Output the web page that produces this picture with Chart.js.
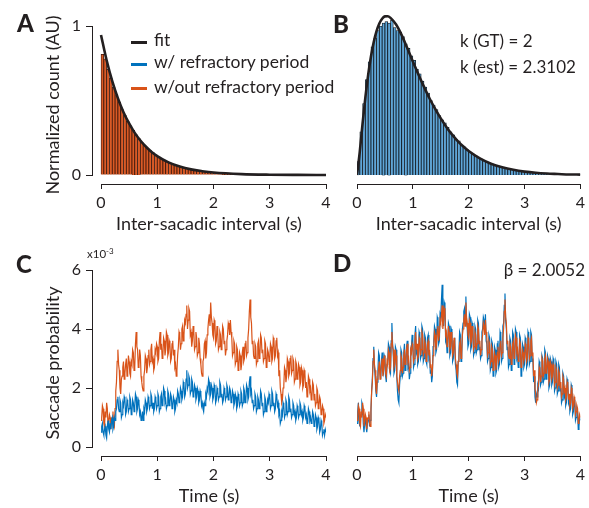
<!DOCTYPE html>
<html><head><meta charset="utf-8">
<script src="https://cdn.jsdelivr.net/npm/chart.js@4"></script>
<style>
html,body{margin:0;padding:0;background:#fff}
body{width:589px;height:508px;position:relative;overflow:hidden;font-family:Lato,'Open Sans',sans-serif;color:#231f20}
canvas{position:absolute;left:0;top:0}
.t{position:absolute;white-space:nowrap;line-height:1}
.lab{font-weight:900;font-size:24px}
.leg{font-size:17.5px}
.ann{font-size:17px}
.sw{position:absolute;height:3px;width:16px}
sup{font-size:8px;vertical-align:4px}
</style></head><body>
<canvas id="cA" width="589" height="508"></canvas>
<canvas id="cB" width="589" height="508"></canvas>
<canvas id="cC" width="589" height="508"></canvas>
<canvas id="cD" width="589" height="508"></canvas>

<div class="t lab" style="left:17px;top:11px">A</div>
<div class="t lab" style="left:333px;top:12px">B</div>
<div class="t lab" style="left:16px;top:252px">C</div>
<div class="t lab" style="left:333px;top:251px">D</div>

<div class="sw" style="left:131px;top:41px;background:#231f20"></div>
<div class="sw" style="left:131px;top:63px;background:#0072BD"></div>
<div class="sw" style="left:131px;top:87px;background:#D95319"></div>
<div class="t leg" style="left:154px;top:31px">fit</div>
<div class="t leg" style="left:154px;top:53px">w/ refractory period</div>
<div class="t leg" style="left:154px;top:78px">w/out refractory period</div>

<div class="t ann" style="left:460px;top:32px">k (GT) = 2</div>
<div class="t ann" style="left:460px;top:58px">k (est) = 2.3102</div>
<div class="t ann" style="right:4px;top:261px">β = 2.0052</div>
<div class="t" style="left:87px;top:247px;font-size:11.5px">x10<sup>-3</sup></div>

<script>
// ---------- data ----------
const xTickValues = [0, 1, 2, 3, 4];
const xTickLabels = ['0', '1', '2', '3', '4'];
const yTickValuesA = [0, 1];
const yTickLabelsA = ['0', '1'];
const yTickValuesC = [0, 2, 4, 6];
const yTickLabelsC = ['0', '2', '4', '6'];

const binWidth = 0.05; // s
// Panel A histogram (w/out refractory period), normalized count
const histA = [0.81,0.78,0.71,0.65,0.59,0.54,0.49,0.44,0.40,0.36,
  0.33,0.30,0.27,0.245,0.22,0.20,0.18,0.165,0.15,0.135,
  0.122,0.11,0.10,0.09,0.082,0.074,0.067,0.06,0.055,0.049,
  0.044,0.040,0.036,0.033,0.030,0.027,0.024,0.022,0.020,0.018,
  0.016,0.0147,0.0133,0.012,0.011,0.0099,0.009,0.008,0.0073,0.0066,
  0.006,0.0054,0.0049,0.0044,0.004,0.0036,0.0033,0.003,0.0027,0.0024,
  0.0022,0.002,0.0018,0.0016,0.0015,0.0013,0.0012,0.0011,0.001,0.0009,
  0.0008,0.0007,0.0006,0.0006,0.0005,0.0005,0.0004,0.0004,0.0003,0.0003];
// Panel B histogram (w/ refractory period)
const histB = [0.09,0.29,0.48,0.64,0.76,0.86,0.92,0.97,1.00,1.02,
  1.03,1.02,1.04,0.99,0.97,0.96,0.93,0.88,0.85,0.80,
  0.77,0.71,0.68,0.63,0.59,0.55,0.50,0.47,0.44,0.40,
  0.37,0.35,0.32,0.29,0.27,0.24,0.23,0.20,0.19,0.17,
  0.155,0.142,0.13,0.118,0.107,0.098,0.089,0.081,0.074,0.067,
  0.061,0.055,0.050,0.045,0.041,0.037,0.034,0.031,0.028,0.025,
  0.023,0.021,0.019,0.017,0.015,0.014,0.012,0.011,0.010,0.009,
  0.008,0.0073,0.0066,0.006,0.0054,0.0048,0.0044,0.004,0.0036,0.0032];

const fitAx = [0,0.1,0.2,0.3,0.4,0.5,0.6,0.7,0.8,0.9,1.0,1.2,1.4,1.6,1.8,2.0,2.5,3.0,3.5,4.0];
const fitAy = [0.94,0.77,0.63,0.516,0.422,0.346,0.283,0.232,0.19,0.155,0.127,0.085,0.057,0.038,0.026,0.017,0.0063,0.0023,0.0009,0.0003];
const fitBx = [0,0.05,0.1,0.15,0.2,0.25,0.3,0.35,0.4,0.45,0.5,0.55,0.6,0.7,0.8,0.9,1.0,1.1,1.2,1.3,1.4,1.5,1.6,1.7,1.8,1.9,2.0,2.2,2.4,2.6,2.8,3.0,3.2,3.4,3.6,3.8,4.0];
const fitBy = [0,0.158,0.347,0.522,0.672,0.796,0.893,0.966,1.017,1.049,1.065,1.066,1.055,1.010,0.939,0.852,0.762,0.675,0.592,0.514,0.444,0.380,0.323,0.273,0.230,0.193,0.161,0.112,0.076,0.052,0.035,0.023,0.015,0.010,0.007,0.004,0.003];

const sampleStep = 0.0125; // s
// saccade probability (x10^-3), w/out refractory period
const probOrange = [
  0.9,1.0,1.4,1.3,0.8,0.7,1.2,1.0,1.5,1.3,0.7,0.9,1.1,1.0,0.6,0.9,1.0,1.2,0.8,0.7,
  1.3,1.9,2.2,2.9,3.3,2.8,2.6,2.0,1.8,2.3,2.4,2.7,2.9,2.3,2.5,2.8,3.0,2.4,2.6,3.1,
  2.9,2.5,2.4,2.9,2.8,3.3,3.2,2.6,2.7,3.5,3.9,3.4,3.3,2.7,2.8,3.3,3.1,2.4,2.2,2.0,
  1.9,2.4,2.6,3.1,3.0,2.5,2.7,3.1,3.3,2.8,2.9,3.3,3.5,2.9,3.0,2.6,2.7,3.3,3.2,3.5,
  3.4,2.9,3.0,3.6,3.9,3.3,3.5,3.0,3.1,3.7,3.6,3.1,3.3,3.9,3.8,3.1,3.2,3.6,3.5,2.9,
  3.0,3.5,3.6,3.1,3.3,2.7,2.8,2.4,2.6,3.1,3.4,3.9,3.8,3.3,3.5,4.0,4.1,3.6,3.8,4.3,
  4.2,4.5,4.8,4.0,4.3,4.7,4.6,3.8,3.9,3.4,3.6,4.1,3.9,3.3,3.4,3.9,3.7,3.1,3.2,3.7,
  3.5,3.0,2.8,2.5,2.4,2.9,3.0,3.5,3.6,3.0,3.2,3.8,4.0,4.3,4.5,4.1,4.9,4.4,4.2,3.8,
  3.7,4.3,4.2,3.5,3.6,4.1,3.9,3.3,3.4,3.9,3.8,3.3,3.5,4.1,4.0,3.5,3.6,3.1,3.3,3.6,
  3.8,4.2,4.1,3.8,4.3,3.9,3.7,3.1,3.2,3.6,3.5,2.8,2.9,3.4,3.3,2.6,2.7,3.2,3.1,2.6,
  2.8,3.2,3.4,2.9,3.0,3.5,3.6,3.1,3.2,3.7,4.0,4.6,5.0,4.4,4.2,3.5,3.6,3.1,3.0,3.5,
  3.4,2.8,2.9,3.5,3.6,3.0,3.1,3.8,3.7,3.2,3.3,2.9,3.0,3.6,3.5,2.7,2.8,3.3,3.2,2.9,
  3.0,3.5,3.4,2.9,3.0,3.7,3.6,3.0,3.1,3.6,3.7,3.1,3.2,2.4,2.6,2.0,1.8,1.5,1.6,2.0,
  2.1,2.7,2.6,2.2,2.4,3.0,2.9,2.4,2.5,3.0,3.1,2.5,2.6,3.0,2.9,2.2,2.3,2.9,2.8,2.3,
  2.4,2.8,2.7,2.1,2.2,2.7,2.6,2.0,2.1,2.6,2.5,2.0,2.2,1.7,1.8,2.4,2.3,1.9,2.0,1.6,
  1.7,2.2,2.1,1.6,1.8,1.4,1.5,2.0,1.9,1.3,1.4,1.7,1.6,1.1,1.2,1.4,1.3,0.8,0.9,1.1,
  1.0];
// panel C, w/ refractory period
const probBlueC = [
  0.5,0.7,0.8,0.5,0.4,0.6,0.7,0.4,0.3,0.7,0.9,0.6,0.5,0.8,0.6,0.9,1.0,0.6,0.7,1.0,
  0.9,1.2,1.3,1.6,1.7,1.3,1.2,1.6,1.5,1.0,1.1,1.5,1.4,1.7,1.6,1.1,1.2,1.6,1.5,1.2,
  1.3,1.7,1.6,1.1,1.2,1.6,1.5,1.2,1.4,1.8,1.7,1.2,1.3,1.6,1.5,1.1,1.2,0.9,1.0,1.2,
  0.9,1.3,1.2,1.6,1.5,1.2,1.3,1.7,1.6,1.3,1.4,1.8,1.7,1.3,1.5,1.2,1.3,1.7,1.6,1.3,
  1.4,1.8,1.7,1.2,1.3,1.7,1.8,1.4,1.5,2.0,1.9,1.5,1.6,1.3,1.4,1.9,1.8,1.4,1.5,1.8,
  1.7,1.3,1.4,1.7,1.6,1.2,1.3,1.6,1.5,1.9,1.8,1.5,1.6,2.0,1.9,1.6,1.7,2.2,2.1,1.7,
  1.8,2.3,2.6,2.0,2.1,2.4,2.3,1.8,1.9,2.3,2.2,1.7,1.8,2.1,2.0,1.6,1.7,2.0,1.9,1.5,
  1.6,1.9,1.8,1.4,1.5,1.3,1.2,1.5,1.4,1.8,1.7,2.0,1.9,2.3,2.2,1.7,1.8,2.1,2.0,1.6,
  1.7,2.1,2.0,1.5,1.6,2.0,1.9,1.6,1.7,2.2,2.1,1.7,1.8,1.5,1.6,2.0,1.9,1.6,1.7,2.1,
  2.0,1.6,1.7,2.0,1.9,1.5,1.6,1.9,1.8,1.4,1.5,1.8,1.7,1.3,1.4,1.8,1.7,1.4,1.5,1.9,
  1.8,1.4,1.5,2.0,1.9,1.5,1.6,2.1,2.0,1.6,1.7,2.2,2.4,1.8,1.9,1.5,1.6,1.3,1.4,1.8,
  1.7,1.2,1.3,1.7,1.6,1.3,1.4,1.9,1.8,1.4,1.5,1.1,1.2,1.7,1.6,1.2,1.3,1.6,1.5,1.8,
  1.7,1.3,1.4,1.9,1.8,1.4,1.5,1.2,1.3,1.8,1.7,1.4,1.5,1.1,1.2,0.8,0.9,1.2,1.1,1.5,
  1.4,1.0,1.1,1.6,1.5,1.1,1.2,1.7,1.6,1.2,1.3,1.0,1.1,1.5,1.4,1.1,1.2,0.9,1.0,1.4,
  1.3,1.0,1.1,1.5,1.4,1.1,1.2,0.9,1.0,1.4,1.3,1.0,1.1,0.8,0.9,1.3,1.2,0.9,1.0,0.8,
  0.9,1.2,1.1,0.7,0.8,1.1,1.0,0.6,0.7,1.0,0.9,0.5,0.6,0.9,0.8,0.4,0.5,0.6,0.4,0.6,
  0.5];
// panel D, w/ refractory period (corrected)
const probBlueD = [
  0.8,1.2,1.5,0.9,0.7,1.0,1.1,1.5,1.4,0.8,0.5,0.8,1.0,0.7,0.5,0.8,0.9,1.1,0.7,0.9,
  1.2,1.9,2.3,3.0,3.4,2.7,2.4,1.9,1.7,2.2,2.6,3.2,3.1,2.5,2.3,2.9,3.2,2.6,2.5,3.1,
  3.0,2.4,2.2,2.8,2.9,3.5,3.4,2.6,2.5,3.6,4.2,3.5,3.1,2.5,2.6,3.4,3.3,2.4,1.9,1.6,
  1.5,2.1,2.4,3.3,3.2,2.4,2.5,3.2,3.5,2.6,2.7,3.4,3.6,2.7,2.8,2.3,2.5,3.3,3.4,3.8,
  3.6,2.7,2.8,3.8,4.1,3.2,3.3,2.8,2.9,3.9,3.8,3.0,3.1,4.1,4.0,2.9,3.0,3.8,3.7,2.9,
  2.8,3.7,3.8,3.0,3.1,2.5,2.6,2.2,2.4,3.4,3.6,4.1,4.0,3.2,3.3,4.4,4.3,3.5,3.6,4.5,
  4.4,5.0,5.5,4.3,4.1,4.9,4.8,3.6,3.7,3.2,3.4,4.2,4.1,3.1,3.2,4.0,3.9,2.9,3.0,3.6,
  3.7,2.8,2.6,2.2,2.1,2.9,3.2,3.9,3.8,2.9,3.0,4.0,4.2,4.6,4.7,4.3,5.1,4.2,4.0,3.4,
  3.5,4.5,4.4,3.3,3.4,4.2,4.1,3.1,3.2,4.1,4.0,3.2,3.3,4.3,4.2,3.3,3.4,3.0,3.1,3.9,
  4.0,4.4,4.3,3.9,4.5,3.6,3.5,2.9,3.0,3.8,3.7,2.6,2.7,3.6,3.5,2.4,2.5,3.4,3.3,2.5,
  2.6,3.5,3.6,2.7,2.8,3.9,3.8,2.9,3.0,4.1,4.2,4.8,5.2,4.3,4.0,3.3,3.4,2.7,2.8,3.7,
  3.6,2.6,2.7,3.9,3.8,2.8,2.9,4.0,3.9,3.0,3.1,2.7,2.8,3.8,3.7,2.4,2.5,3.5,3.4,2.7,
  2.8,3.7,3.6,2.7,2.8,3.9,3.8,2.8,2.9,3.9,3.8,2.9,3.0,2.2,2.4,1.7,1.5,1.8,1.7,2.1,
  2.0,2.9,2.8,2.1,2.2,3.1,3.0,2.2,2.3,3.3,3.2,2.3,2.4,3.1,3.0,2.0,2.1,3.0,2.9,2.1,
  2.2,3.0,2.9,1.9,2.0,2.9,2.8,1.8,1.9,2.8,2.7,1.9,2.0,1.5,1.6,2.5,2.4,1.7,1.8,1.4,
  1.5,2.3,2.2,1.5,1.6,1.2,1.3,2.1,2.0,1.1,1.2,1.6,1.5,0.9,1.0,1.3,1.2,0.6,0.7,1.0,
  0.9];

// ---------- styling ----------
const INK = '#231f20', BLUE = '#0072BD', ORANGE = '#D95319';
const FAM = 'Lato';
const tickFont = {family: FAM, size: 16};
const titleFont = {family: FAM, size: 18};
Chart.defaults.font.family = FAM;
Chart.defaults.animation = false;
Chart.defaults.events = [];
Chart.defaults.plugins.legend.display = false;
Chart.defaults.plugins.tooltip.enabled = false;

const al = p => Math.round(p - 0.5) + 0.5;
const axisLines = {
  id: 'axisLines',
  afterDraw(chart, args, o) {
    const {ctx, chartArea: ca, scales: {x, y}} = chart;
    ctx.save();
    ctx.strokeStyle = INK; ctx.lineWidth = 1;
    ctx.beginPath();
    const yb = al(ca.bottom);
    ctx.moveTo(al(x.getPixelForValue(o.x0)) - 0.5, yb);
    ctx.lineTo(al(x.getPixelForValue(o.x1)) + 0.5, yb);
    if (o.yAxis) {
      const xl = al(ca.left);
      ctx.moveTo(xl, al(y.getPixelForValue(o.y0)) + 0.5);
      ctx.lineTo(xl, al(y.getPixelForValue(o.y1)) - 0.5);
    }
    ctx.stroke();
    ctx.restore();
  }
};

function xAxis(min, title) {
  return {
    type: 'linear', min: min, max: 4, offset: false,
    afterBuildTicks(s) { s.ticks = xTickValues.map(v => ({value: v})); },
    afterFit(s) { s.height = 51; },
    border: {display: false},
    grid: {display: true, offset: false, drawOnChartArea: false, drawTicks: true, tickLength: 5, color: INK, lineWidth: 1},
    ticks: {font: tickFont, color: INK, padding: 4, maxRotation: 0, autoSkip: false, callback: (v, i) => xTickLabels[i]},
    title: {display: true, text: title, font: titleFont, color: INK, padding: 0}
  };
}
function yAxis(min, max, vals, labels, title) {
  return {
    type: 'linear', min: min, max: max,
    afterBuildTicks(s) { s.ticks = vals.map(v => ({value: v})); },
    afterFit(s) { s.width = 50; },
    border: {display: false},
    grid: {display: true, drawOnChartArea: false, drawTicks: true, tickLength: 6, color: INK, lineWidth: 1},
    ticks: {font: tickFont, color: INK, padding: 5, autoSkip: false, crossAlign: 'near', callback: (v, i) => labels[i]},
    title: {display: true, text: title, font: titleFont, color: INK, padding: 0}
  };
}
const hiddenY = (min, max) => ({type: 'linear', min: min, max: max, display: false});

const binCenters = histA.map((_, i) => binWidth * (i + 0.5));
const times = probOrange.map((_, i) => i * sampleStep);
const pts = (xs, ys) => ys.map((v, i) => ({x: xs[i], y: v}));

function fitDataset(xs, ys) {
  return {type: 'line', data: pts(xs, ys), borderColor: INK, borderWidth: 2.6,
    pointRadius: 0, cubicInterpolationMode: 'monotone', fill: false, order: 0};
}
function histDataset(vals, fillC, edge) {
  return {type: 'bar', data: pts(binCenters, vals), backgroundColor: fillC, borderColor: edge,
    borderWidth: 0.8, barPercentage: 1, categoryPercentage: 1, order: 1};
}
function probDataset(vals, color, ord) {
  return {type: 'line', data: pts(times, vals), borderColor: color, borderWidth: 1.2,
    pointRadius: 0, tension: 0, fill: false, order: ord};
}

// Panel A
new Chart(document.getElementById('cA'), {
  type: 'bar',
  data: {datasets: [fitDataset(fitAx, fitAy), histDataset(histA, '#DB5A25', '#3a170c')]},
  options: {
    responsive: false,
    layout: {padding: {left: 42, right: 263, top: 26, bottom: 508 - 184 - 51}},
    scales: {x: xAxis(-0.16, 'Inter-sacadic interval (s)'),
             y: yAxis(-0.06, 1, yTickValuesA, yTickLabelsA, 'Normalized count (AU)')},
    plugins: {axisLines: {x0: 0, x1: 4, yAxis: true, y0: 0, y1: 1}}
  },
  plugins: [axisLines]
});

// Panel B
new Chart(document.getElementById('cB'), {
  type: 'bar',
  data: {datasets: [fitDataset(fitBx, fitBy), histDataset(histB, '#5FA6D8', '#101820')]},
  options: {
    responsive: false,
    layout: {padding: {left: 357, right: 8, top: 184 - 149 * 1.16, bottom: 508 - 184 - 51}},
    scales: {x: xAxis(0, 'Inter-sacadic interval (s)'), y: hiddenY(-0.06, 1.1)},
    plugins: {axisLines: {x0: 0, x1: 4, yAxis: false}}
  },
  plugins: [axisLines]
});

// Panel C
new Chart(document.getElementById('cC'), {
  type: 'line',
  data: {datasets: [probDataset(probBlueC, BLUE, 0), probDataset(probOrange, ORANGE, 1)]},
  options: {
    responsive: false,
    layout: {padding: {left: 42, right: 263, top: 270, bottom: 508 - 456 - 51}},
    scales: {x: xAxis(-0.16, 'Time (s)'),
             y: yAxis(-9 / 29.5, 6, yTickValuesC, yTickLabelsC, 'Saccade probability')},
    plugins: {axisLines: {x0: 0, x1: 4, yAxis: true, y0: 0, y1: 6}}
  },
  plugins: [axisLines]
});

// Panel D
new Chart(document.getElementById('cD'), {
  type: 'line',
  data: {datasets: [probDataset(probOrange, ORANGE, 0), probDataset(probBlueD, BLUE, 1)]},
  options: {
    responsive: false,
    layout: {padding: {left: 357, right: 8, top: 270, bottom: 508 - 456 - 51}},
    scales: {x: xAxis(0, 'Time (s)'), y: hiddenY(-9 / 29.5, 6)},
    plugins: {axisLines: {x0: 0, x1: 4, yAxis: false}}
  },
  plugins: [axisLines]
});
</script>
</body></html>
